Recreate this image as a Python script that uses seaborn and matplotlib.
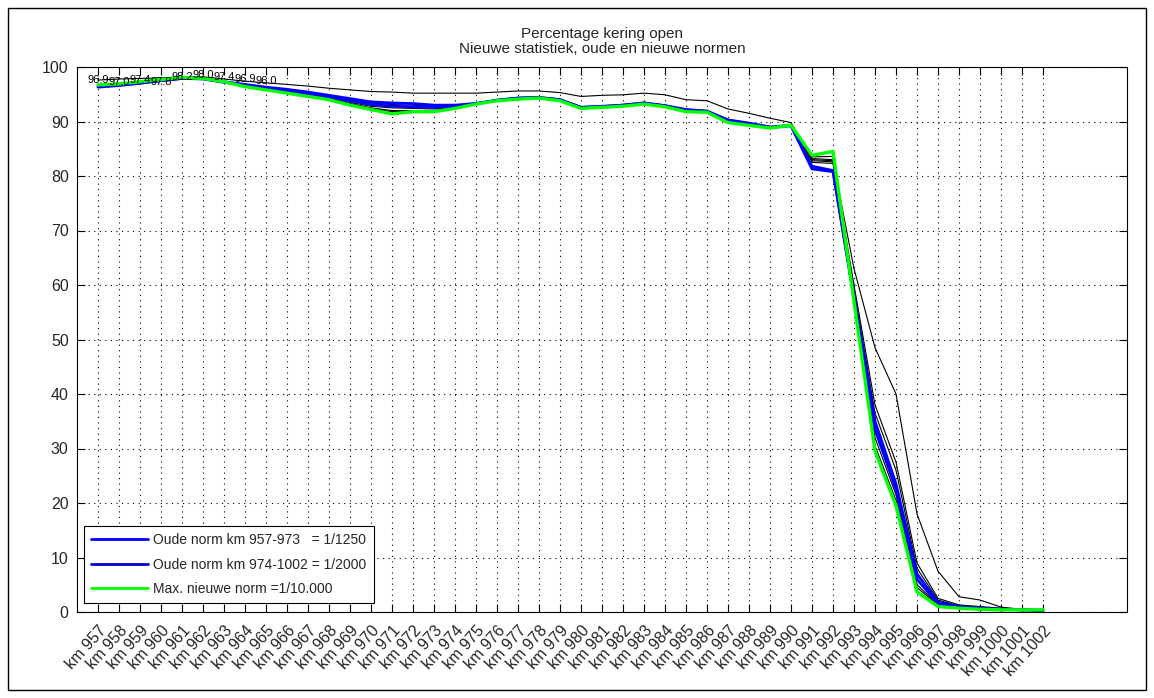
import matplotlib
matplotlib.use("Agg")
import matplotlib.pyplot as plt
import seaborn as sns
import pandas as pd
from matplotlib.patches import Rectangle
from matplotlib.lines import Line2D

# ---------------- data ----------------
km = list(range(957, 1003))
km_labels = ["km %d" % k for k in km]
y_ticks = [0, 10, 20, 30, 40, 50, 60, 70, 80, 90, 100]

green_max_new = [96.7, 96.9, 97.3, 97.7, 98.1, 97.9, 97.3, 96.4, 95.8, 95.2,
                 94.6, 94.0, 93.0, 92.2, 91.4, 91.8, 91.8, 92.4, 93.2, 93.8,
                 94.1, 94.3, 93.8, 92.4, 92.6, 92.8, 93.2, 92.7, 91.8, 91.7,
                 89.8, 89.3, 88.8, 89.3, 83.8, 84.5, 57.0, 29.5, 19.5, 3.7,
                 1.0, 0.7, 0.5, 0.4, 0.4, 0.4]
blue_1250 = [96.3, 96.6, 97.0, 97.5, 97.9, 97.9, 97.3, 96.8, 96.3, 95.9,
             95.4, 94.8, 94.2, 93.6, 93.4, 93.3, 93.0, 93.0, 93.3, 93.9,
             94.3, 94.4, 94.0, 92.6, 92.7, 93.0, 93.4, 92.9, 92.2, 91.9,
             90.3, 89.7, 89.0, 89.3, 81.8, 81.0, 58.0, 35.0, 23.5, 7.0,
             1.8, 1.0, 0.7, 0.5, 0.4, 0.3]
blue_2000 = [96.4, 96.7, 97.1, 97.5, 97.9, 97.8, 97.2, 96.6, 96.1, 95.6,
             95.1, 94.5, 93.8, 93.1, 92.8, 92.7, 92.6, 92.8, 93.3, 93.9,
             94.3, 94.4, 94.0, 92.6, 92.8, 93.0, 93.4, 92.9, 92.1, 91.9,
             90.2, 89.6, 88.9, 89.2, 81.3, 80.8, 57.5, 33.5, 22.5, 6.0,
             1.5, 0.9, 0.6, 0.5, 0.4, 0.3]
black_top = [97.6, 97.8, 97.9, 98.0, 98.2, 98.2, 97.8, 97.4, 97.1, 96.8,
             96.5, 96.1, 95.8, 95.5, 95.4, 95.2, 95.2, 95.2, 95.2, 95.4,
             95.6, 95.6, 95.3, 94.6, 94.8, 94.9, 95.2, 94.9, 94.0, 93.8,
             92.3, 91.5, 90.6, 89.8, 83.0, 82.8, 63.0, 48.5, 40.0, 18.0,
             7.5, 2.8, 2.2, 0.9, 0.5, 0.4]
black_2 = [96.5, 96.8, 97.2, 97.6, 98.0, 97.9, 97.3, 96.6, 96.0, 95.5,
           94.9, 94.3, 93.5, 92.8, 92.5, 92.4, 92.3, 92.6, 93.2, 93.8,
           94.2, 94.4, 93.9, 92.5, 92.7, 92.9, 93.3, 92.8, 92.0, 91.8,
           90.0, 89.5, 88.9, 89.3, 82.5, 82.3, 58.5, 32.0, 21.5, 5.0,
           1.3, 0.8, 0.6, 0.5, 0.4, 0.3]
black_3 = [96.6, 96.8, 97.2, 97.6, 98.0, 97.9, 97.3, 96.5, 95.9, 95.4,
           94.8, 94.1, 93.3, 92.5, 92.0, 92.0, 92.0, 92.5, 93.2, 93.8,
           94.2, 94.3, 93.8, 92.5, 92.6, 92.8, 93.2, 92.8, 91.9, 91.8,
           89.9, 89.4, 88.8, 89.3, 83.2, 83.0, 59.0, 36.5, 26.0, 8.0,
           2.2, 1.1, 0.8, 0.6, 0.4, 0.3]
black_4 = [96.5, 96.7, 97.1, 97.5, 97.9, 97.8, 97.2, 96.7, 96.2, 95.7,
           95.2, 94.6, 94.0, 93.4, 93.1, 93.0, 92.8, 92.9, 93.3, 93.9,
           94.3, 94.4, 93.9, 92.6, 92.7, 93.0, 93.4, 92.9, 92.1, 91.9,
           90.1, 89.6, 89.0, 89.3, 82.8, 82.6, 60.0, 38.0, 27.5, 9.0,
           2.5, 1.3, 1.0, 0.7, 0.5, 0.3]
black_5 = [96.6, 96.9, 97.3, 97.7, 98.0, 97.9, 97.3, 96.5, 95.9, 95.3,
           94.7, 94.1, 93.2, 92.4, 91.8, 91.9, 91.9, 92.5, 93.2, 93.8,
           94.1, 94.3, 93.8, 92.4, 92.6, 92.8, 93.2, 92.7, 91.8, 91.7,
           89.9, 89.3, 88.8, 89.3, 83.5, 83.6, 57.5, 30.5, 20.5, 4.5,
           1.2, 0.8, 0.5, 0.4, 0.4, 0.3]

point_labels = ["96.9", "97.0", "97.4", "97.8", "98.2", "98.0", "97.4", "96.9", "96.0"]
point_label_km = [957, 958, 959, 960, 961, 962, 963, 964, 965]
point_label_y = [97.6, 97.3, 97.6, 97.3, 98.2, 98.6, 98.2, 97.8, 97.4]

legend_labels = ["Oude norm km 957-973   = 1/1250",
                 "Oude norm km 974-1002 = 1/2000",
                 "Max. nieuwe norm =1/10.000"]

# ---------------- style ----------------
sns.set_style("ticks")
plt.rcParams["font.family"] = ["Liberation Sans", "DejaVu Sans"]

W, H = 1154, 698
fig = plt.figure(figsize=(W / 100, H / 100), dpi=100)
fig.patch.set_facecolor("white")
ax = fig.add_axes([77 / W, 1 - 612 / H, 1050 / W, 545 / H])

for s in [black_top, black_2, black_3, black_4, black_5]:
    sns.lineplot(x=km, y=s, color="black", linewidth=0.8, ax=ax, legend=False)
sns.lineplot(x=km, y=blue_2000, color="#0000ff", linewidth=2.0, ax=ax, legend=False)
sns.lineplot(x=km, y=blue_1250, color="#0000ff", linewidth=2.0, ax=ax, legend=False)
sns.lineplot(x=km, y=green_max_new, color="#00ff00", linewidth=2.4, ax=ax, legend=False)

for k, yv, t in zip(point_label_km, point_label_y, point_labels):
    ax.text(k, yv, t, fontsize=8, ha="center", va="center", color="black")

ax.set_xlim(956, 1006)
ax.set_ylim(0, 100)
ax.set_xticks(km)
ax.set_xticklabels(km_labels, rotation=48, ha="right", va="top",
                   rotation_mode="anchor", fontsize=11.5)
ax.set_yticks(y_ticks)
ax.set_yticklabels([str(v) for v in y_ticks], fontsize=11.5)
ax.tick_params(axis="y", direction="in", left=True, right=True, length=6,
               width=0.8, color="black", pad=6)
ax.tick_params(axis="x", direction="in", top=True, bottom=True, length=6,
               width=0.8, color="black", pad=8)
ax.grid(True, linestyle=(0, (1, 4)), color="black", linewidth=0.8)
for sp in ax.spines.values():
    sp.set_visible(True)
    sp.set_color("black")
    sp.set_linewidth(0.8)
ax.set_xlabel("")
ax.set_ylabel("")
ax.set_title("Percentage kering open\nNieuwe statistiek, oude en nieuwe normen",
             fontsize=11, pad=10, linespacing=1.1)

handles = [Line2D([0], [0], color="#0000ff", lw=2.0),
           Line2D([0], [0], color="#0000cc", lw=2.0),
           Line2D([0], [0], color="#00ff00", lw=2.0)]
leg = ax.legend(handles, legend_labels, loc="lower left",
                bbox_to_anchor=(7 / 1050, 9 / 545), borderaxespad=0,
                fancybox=False, framealpha=1, edgecolor="black",
                fontsize=10, handlelength=4.1, labelspacing=0.75,
                handletextpad=0.4, borderpad=0.5)
leg.get_frame().set_linewidth(0.8)

fig.add_artist(Rectangle((8 / W, 8 / H), (1146 - 8) / W, (690 - 8) / H,
                         transform=fig.transFigure, fill=False,
                         edgecolor="black", linewidth=1.0))

fig.savefig("out.png", dpi=100)
